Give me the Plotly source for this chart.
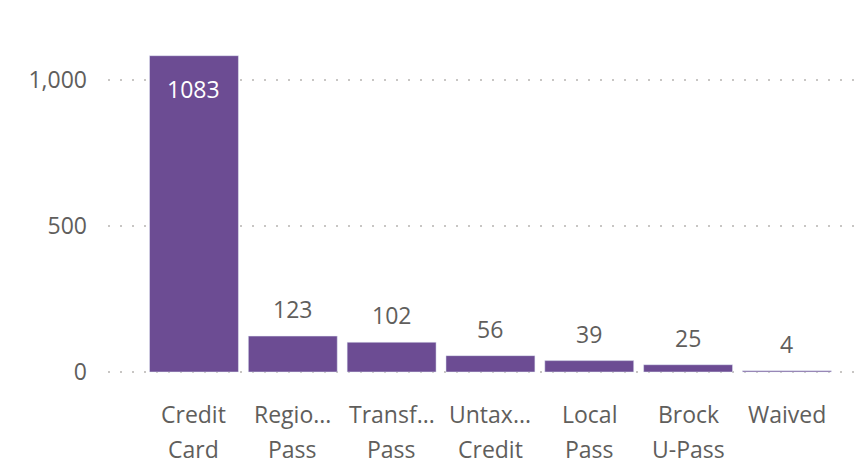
import plotly.graph_objects as go

categories = ["Credit Card", "Regional Pass", "Transfer Pass", "Untaxed Credit", "Local Pass", "Brock U-Pass", "Waived"]
line1 = ["Credit", "Regio...", "Transf...", "Untax...", "Local", "Brock", "Waived"]
line2 = ["Card", "Pass", "Pass", "Credit", "Pass", "U-Pass", ""]
values = [1083, 123, 102, 56, 39, 25, 4]
tick_vals = [0, 500, 1000]

BAR = "#6C4C93"
TXT = "#605E5C"
FONT = "Segoe UI, Open Sans, sans-serif"
FS = 23

fig = go.Figure(go.Bar(x=categories, y=values, marker_color=BAR, width=0.9,
                       hoverinfo="skip"))

ann = []
for i, (c, v) in enumerate(zip(categories, values)):
    if i == 0:
        ann.append(dict(x=c, y=v, xref="x", yref="y", text=str(v), showarrow=False,
                        yanchor="middle", yshift=-33, font=dict(color="white", size=FS, family=FONT)))
    else:
        ann.append(dict(x=c, y=v, xref="x", yref="y", text=str(v), showarrow=False,
                        yanchor="middle", yshift=27, font=dict(color=TXT, size=FS, family=FONT)))
    ann.append(dict(x=c, y=0, xref="x", yref="y", text=line1[i], showarrow=False,
                    yanchor="middle", yshift=-42, font=dict(color=TXT, size=FS, family=FONT)))
    if line2[i]:
        ann.append(dict(x=c, y=0, xref="x", yref="y", text=line2[i], showarrow=False,
                        yanchor="middle", yshift=-77, font=dict(color=TXT, size=FS, family=FONT)))

fig.update_layout(
    width=860, height=466,
    margin=dict(l=100, r=6, t=22, b=84),
    paper_bgcolor="white", plot_bgcolor="white",
    showlegend=False,
    annotations=ann,
    font=dict(family=FONT, color=TXT, size=FS),
    xaxis=dict(range=[-0.87, 6.76], showticklabels=False, showgrid=False,
               zeroline=False, showline=False, ticks=""),
    yaxis=dict(range=[-61.6, 1171], tickvals=tick_vals, tickformat=",d",
               showgrid=True, gridcolor="#C8C6C4", gridwidth=1.5, griddash="2px,10px",
               zeroline=False, showline=False, ticks="", ticklabelstandoff=20,
               tickfont=dict(size=FS, color=TXT, family=FONT)),
)

fig.write_html("out.html")
